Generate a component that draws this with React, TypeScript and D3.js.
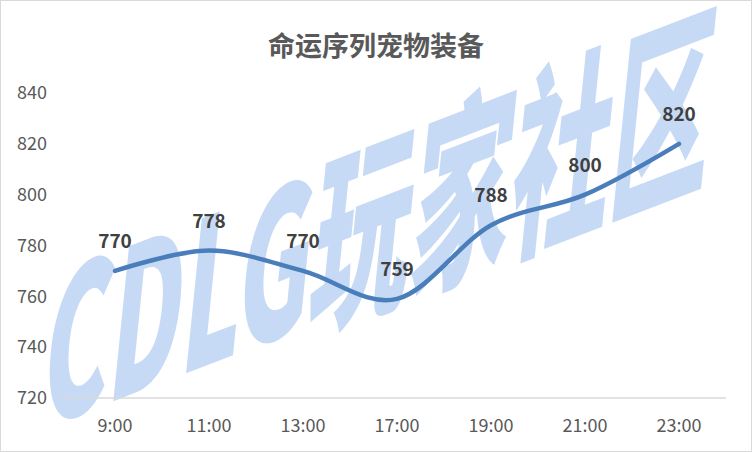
import React from "react";
import * as d3 from "d3";

const TITLE = "命运序列宠物装备";
const categories = ["9:00", "11:00", "13:00", "17:00", "19:00", "21:00", "23:00"];
const values = [770, 778, 770, 759, 788, 800, 820];
const yTicks = [720, 740, 760, 780, 800, 820, 840];
const WATERMARK = "CDLG玩家社区";

const W = 752;
const H = 452;
const M = { top: 93, right: 26, bottom: 54, left: 68 };
const FONT = "'Noto Sans CJK SC', 'Noto Sans', sans-serif";

export default function App() {
  const x = d3
    .scaleBand<string>()
    .domain(categories)
    .range([M.left, W - M.right]);
  const y = d3
    .scaleLinear()
    .domain([720, 840])
    .range([H - M.bottom, M.top]);

  const pts: [number, number][] = values.map((v, i) => [
    (x(categories[i]) ?? 0) + x.bandwidth() / 2,
    y(v),
  ]);
  const line = d3.line().curve(d3.curveCardinal.tension(0));

  return (
    <svg
      width={W}
      height={H}
      style={{ position: "absolute", left: 0, top: 0 }}
      fontFamily={FONT}
    >
      <rect x={0.5} y={0.5} width={W - 1} height={H - 1} fill="#fff" stroke="#d9d9d9" />

      {/* 水印 */}
      <g transform="translate(38,430) skewY(-21) skewX(-6)">
        <text
          x={0}
          y={0}
          fontSize={200}
          fontWeight={900}
          fill="#c6daf6"
          transform="scale(0.5,1)"
        >
          {WATERMARK}
        </text>
      </g>

      <text x={W / 2} y={56} textAnchor="middle" fontSize={27} fontWeight={700} fill="#595959">
        {TITLE}
      </text>

      {yTicks.map((t) => (
        <text key={t} x={47} y={y(t)} dy="0.35em" textAnchor="end" fontSize={18} fill="#595959">
          {t}
        </text>
      ))}

      <line
        x1={M.left - 6}
        x2={W - M.right}
        y1={y(720)}
        y2={y(720)}
        stroke="#d9d9d9"
        strokeWidth={1.5}
      />

      {categories.map((c) => (
        <text
          key={c}
          x={(x(c) ?? 0) + x.bandwidth() / 2}
          y={y(720) + 34}
          textAnchor="middle"
          fontSize={18}
          fill="#595959"
        >
          {c}
        </text>
      ))}

      <path d={line(pts) ?? ""} fill="none" stroke="#4a7ebb" strokeWidth={4.5} strokeLinecap="round" />

      {pts.map(([px, py], i) => (
        <text
          key={i}
          x={px}
          y={py - 23}
          textAnchor="middle"
          fontSize={19}
          fontWeight={700}
          fill="#404040"
        >
          {values[i]}
        </text>
      ))}
    </svg>
  );
}
